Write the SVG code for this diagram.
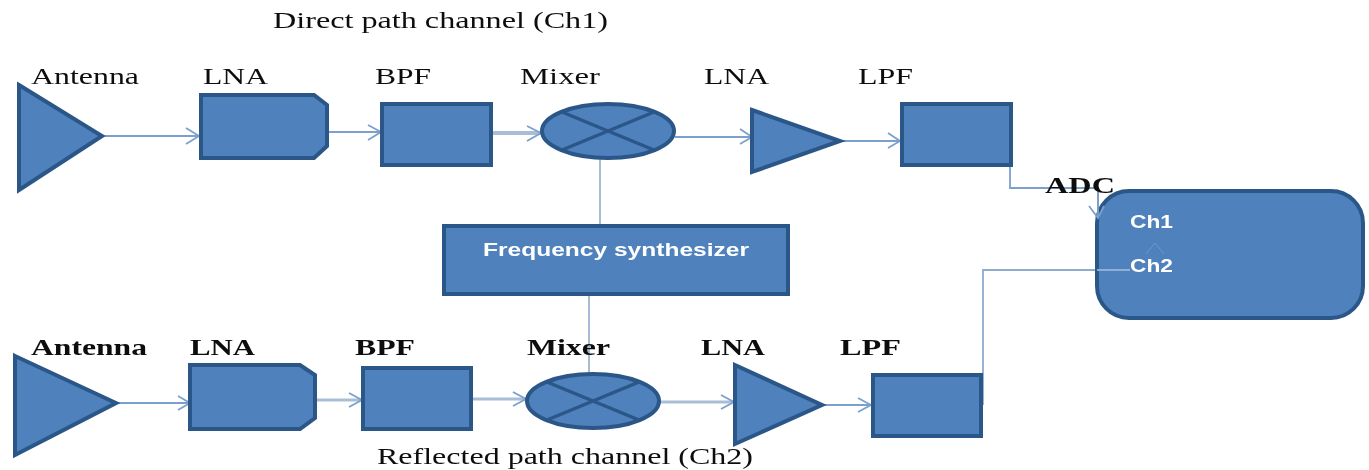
<svg xmlns="http://www.w3.org/2000/svg" width="1369" height="470" viewBox="0 0 1369 470">
<style>
.s{fill:#4f81bd;stroke:#2b5688;stroke-width:4;stroke-linejoin:miter}
.x{fill:none;stroke:#2b5688;stroke-width:3.5}
.c{fill:none;stroke:#7ba0cd;stroke-width:1.8}
.h{fill:none;stroke:#7ba0cd;stroke-width:1.8}
.t{font-family:"Liberation Serif",serif;font-size:24px;fill:#111}
.b{font-weight:bold}
.w{font-family:"Liberation Sans",sans-serif;font-size:18px;font-weight:bold;fill:#fff}
</style>
<defs><filter id="soft" filterUnits="userSpaceOnUse" x="0" y="0" width="1369" height="470"><feGaussianBlur stdDeviation="0.55"/></filter></defs>
<rect width="1369" height="470" fill="#fff"/>
<g filter="url(#soft)">
<g id="connectors">
<path class="c" d="M104 136H200"/><path class="h" d="M186 128L199 136L186 144"/>
<path class="c" d="M328 132H381"/><path class="h" d="M368 125L381 132L368 140"/>
<path class="c" d="M492 133H540" style="stroke:#a9bdd6;stroke-width:4"/><path class="h" d="M527 126L541 133L527 141"/>
<path class="c" d="M675 137H752"/><path class="h" d="M740 129L752 137L740 144"/>
<path class="c" d="M840 141H901"/><path class="h" d="M888 133L900 141L888 148"/>
<path class="c" d="M1010 158V188H1098V218"/>
<path class="c" d="M600 158V226" style="stroke:#9db4d0"/>
<path class="c" d="M589 295V374" style="stroke:#9db4d0"/>
<path class="c" d="M117 403H190"/><path class="h" d="M178 396L190 403L178 410"/>
<path class="c" d="M316 400H362" style="stroke:#a9bdd6;stroke-width:3"/><path class="h" d="M349 393L362 400L349 407"/>
<path class="c" d="M472 399H526" style="stroke:#a9bdd6;stroke-width:3"/><path class="h" d="M513 392L526 399L513 406"/>
<path class="c" d="M660 402H734" style="stroke:#a9bdd6;stroke-width:3"/><path class="h" d="M721 395L734 402L721 409"/>
<path class="c" d="M823 405H872"/><path class="h" d="M858 398L871 405L858 412"/>
<path class="c" d="M983 405V270H1097" style="stroke:#8fabcd"/>
</g>
<g id="antenna1"><polygon class="s" points="19,85 102,136 19,190"/><text class="t" x="31" y="84" textLength="108" lengthAdjust="spacingAndGlyphs">Antenna</text></g>
<g id="lna1"><polygon class="s" points="201,95 314,95 327,105 327,146 314,158 201,158"/><text class="t" x="203" y="84" textLength="65" lengthAdjust="spacingAndGlyphs">LNA</text></g>
<g id="bpf1"><rect class="s" x="382" y="104" width="109" height="61"/><text class="t" x="375" y="84" textLength="56" lengthAdjust="spacingAndGlyphs">BPF</text></g>
<g id="mixer1"><ellipse class="s" cx="608" cy="131" rx="66" ry="27"/><path class="x" d="M562 112L654 150M562 150L654 112"/><text class="t" x="520" y="84" textLength="80" lengthAdjust="spacingAndGlyphs">Mixer</text></g>
<g id="lna2"><polygon class="s" points="752,110 840,141 752,172"/><text class="t" x="704" y="84" textLength="65" lengthAdjust="spacingAndGlyphs">LNA</text></g>
<g id="lpf1"><rect class="s" x="902" y="104" width="109" height="61"/><text class="t" x="858" y="84" textLength="55" lengthAdjust="spacingAndGlyphs">LPF</text></g>
<g id="synth"><rect class="s" x="444" y="226" width="344" height="68"/><text class="w" x="483" y="256" textLength="266" lengthAdjust="spacingAndGlyphs">Frequency synthesizer</text></g>
<g id="adc"><rect class="s" x="1097" y="191" width="266" height="127" rx="32"/>
<path class="c" d="M1097 270H1130" style="stroke:#8fb0d6"/><path class="c" d="M1146 254L1155 243L1164 254" style="stroke:#6d9acb;stroke-width:1"/>
<path class="c" d="M1098 188V218"/><path class="h" d="M1089 206L1098 218L1104 206"/>
<text class="t b" x="1045" y="193" textLength="70" lengthAdjust="spacingAndGlyphs">ADC</text><text class="w" x="1130" y="228" textLength="43" lengthAdjust="spacingAndGlyphs">Ch1</text><text class="w" x="1130" y="272" textLength="43" lengthAdjust="spacingAndGlyphs">Ch2</text></g>
<g id="antenna3"><polygon class="s" points="15,356 116,403 15,455"/><text class="t b" x="31" y="355" textLength="116" lengthAdjust="spacingAndGlyphs">Antenna</text></g>
<g id="lna3"><polygon class="s" points="190,365 300,365 315,375 315,418 300,429 190,429"/><text class="t b" x="190" y="355" textLength="65" lengthAdjust="spacingAndGlyphs">LNA</text></g>
<g id="bpf3"><rect class="s" x="363" y="368" width="108" height="61"/><text class="t b" x="355" y="355" textLength="60" lengthAdjust="spacingAndGlyphs">BPF</text></g>
<g id="mixer3"><ellipse class="s" cx="593" cy="401" rx="66" ry="27"/><path class="x" d="M547 382L639 420M547 420L639 382"/><text class="t b" x="527" y="355" textLength="83" lengthAdjust="spacingAndGlyphs">Mixer</text></g>
<g id="lna4"><polygon class="s" points="735,365 822,405 735,444"/><text class="t b" x="701" y="355" textLength="64" lengthAdjust="spacingAndGlyphs">LNA</text></g>
<g id="lpf3"><rect class="s" x="873" y="375" width="108" height="61"/><text class="t b" x="840" y="355" textLength="61" lengthAdjust="spacingAndGlyphs">LPF</text></g>
<text class="t" x="273" y="28" textLength="335" lengthAdjust="spacingAndGlyphs">Direct path channel (Ch1)</text>
<text class="t" x="377" y="464" textLength="376" lengthAdjust="spacingAndGlyphs">Reflected path channel (Ch2)</text>
</g>
</svg>
